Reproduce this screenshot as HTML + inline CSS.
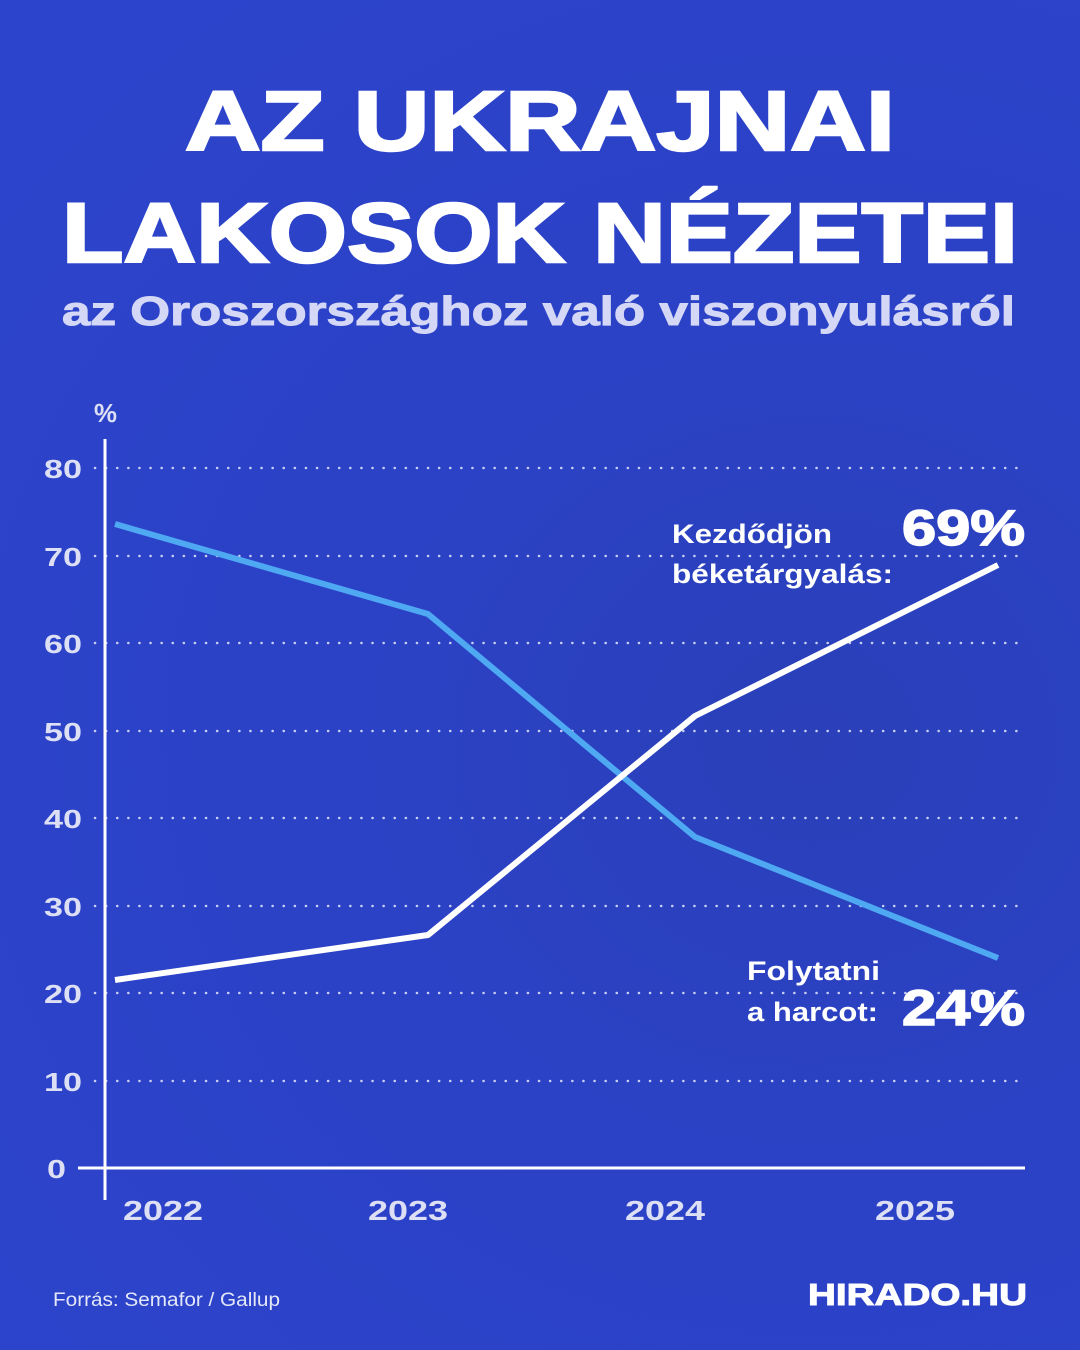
<!DOCTYPE html>
<html><head><meta charset="utf-8"><style>
html,body{margin:0;padding:0;background:#2a40c6;}
body{width:1080px;height:1350px;overflow:hidden;position:relative;font-family:"Liberation Sans","DejaVu Sans",sans-serif;}
.bg{position:absolute;inset:0;background:radial-gradient(ellipse at 75% 55%,#2a3fb8 0%,#2b42c6 40%,#2c44cc 100%);}
</style></head><body>
<div class="bg"></div>
<svg width="1080" height="1350" style="position:absolute;left:0;top:0" font-family="Liberation Sans, sans-serif">
<g fill="#fff" font-weight="700">
<text x="185" y="150" font-size="84" stroke="#fff" stroke-width="2.5" textLength="710" lengthAdjust="spacingAndGlyphs">AZ UKRAJNAI</text>
<text x="62" y="262" font-size="84" stroke="#fff" stroke-width="2.5" textLength="956" lengthAdjust="spacingAndGlyphs">LAKOSOK NÉZETEI</text>
<text x="62" y="325" font-size="41" fill="#d4d8f6" stroke="#d4d8f6" stroke-width="1" textLength="953" lengthAdjust="spacingAndGlyphs">az Oroszországhoz való viszonyulásról</text>
</g>
<g stroke="#c9cff2" stroke-width="2.5" stroke-dasharray="0.1 11" stroke-linecap="round">
<line x1="95" y1="468" x2="1025" y2="468"/><line x1="95" y1="556" x2="1025" y2="556"/>
<line x1="95" y1="643" x2="1025" y2="643"/><line x1="95" y1="731" x2="1025" y2="731"/>
<line x1="95" y1="818" x2="1025" y2="818"/><line x1="95" y1="906" x2="1025" y2="906"/>
<line x1="95" y1="993" x2="1025" y2="993"/><line x1="95" y1="1081" x2="1025" y2="1081"/>
</g>
<line x1="105" y1="439" x2="105" y2="1200" stroke="#fff" stroke-width="3"/>
<line x1="78" y1="1168" x2="1025" y2="1168" stroke="#fff" stroke-width="3"/>
<g fill="#dde0f5" font-size="26" font-weight="700">
<text x="44" y="478" textLength="38" lengthAdjust="spacingAndGlyphs">80</text>
<text x="44" y="566" textLength="38" lengthAdjust="spacingAndGlyphs">70</text>
<text x="44" y="653" textLength="38" lengthAdjust="spacingAndGlyphs">60</text>
<text x="44" y="741" textLength="38" lengthAdjust="spacingAndGlyphs">50</text>
<text x="44" y="828" textLength="38" lengthAdjust="spacingAndGlyphs">40</text>
<text x="44" y="916" textLength="38" lengthAdjust="spacingAndGlyphs">30</text>
<text x="44" y="1003" textLength="38" lengthAdjust="spacingAndGlyphs">20</text>
<text x="44" y="1091" textLength="38" lengthAdjust="spacingAndGlyphs">10</text>
<text x="47" y="1178" textLength="19" lengthAdjust="spacingAndGlyphs">0</text>
<text x="94" y="422" textLength="23" lengthAdjust="spacingAndGlyphs">%</text>
</g>
<g fill="#dde0f5" font-size="28" font-weight="700">
<text x="123" y="1220" textLength="80" lengthAdjust="spacingAndGlyphs">2022</text>
<text x="368" y="1220" textLength="80" lengthAdjust="spacingAndGlyphs">2023</text>
<text x="625" y="1220" textLength="80" lengthAdjust="spacingAndGlyphs">2024</text>
<text x="875" y="1220" textLength="80" lengthAdjust="spacingAndGlyphs">2025</text>
</g>
<polyline points="115,524 428,614 695,837 998,958" fill="none" stroke="#4ea8f2" stroke-width="6" stroke-linejoin="round"/>
<polyline points="115,980 428,935 695,716 998,565" fill="none" stroke="#fff" stroke-width="6" stroke-linejoin="round"/>
<g fill="#fff" font-weight="700">
<text x="672" y="543" font-size="27" textLength="160" lengthAdjust="spacingAndGlyphs">Kezdődjön</text>
<text x="672" y="583" font-size="27" textLength="221" lengthAdjust="spacingAndGlyphs">béketárgyalás:</text>
<text x="902" y="545" font-size="50" stroke="#fff" stroke-width="1.5" textLength="123" lengthAdjust="spacingAndGlyphs">69%</text>
<text x="747" y="980" font-size="27" textLength="133" lengthAdjust="spacingAndGlyphs">Folytatni</text>
<text x="747" y="1021" font-size="27" textLength="131" lengthAdjust="spacingAndGlyphs">a harcot:</text>
<text x="902" y="1025" font-size="50" stroke="#fff" stroke-width="1.5" textLength="123" lengthAdjust="spacingAndGlyphs">24%</text>
<text x="53" y="1306" font-size="19" font-weight="400" fill="#e4e7f8" textLength="227" lengthAdjust="spacingAndGlyphs">Forrás: Semafor / Gallup</text>
<text x="808" y="1305" font-size="31" stroke="#fff" stroke-width="1" textLength="219" lengthAdjust="spacingAndGlyphs">HIRADO.HU</text>
</g>
</svg>
</body></html>
